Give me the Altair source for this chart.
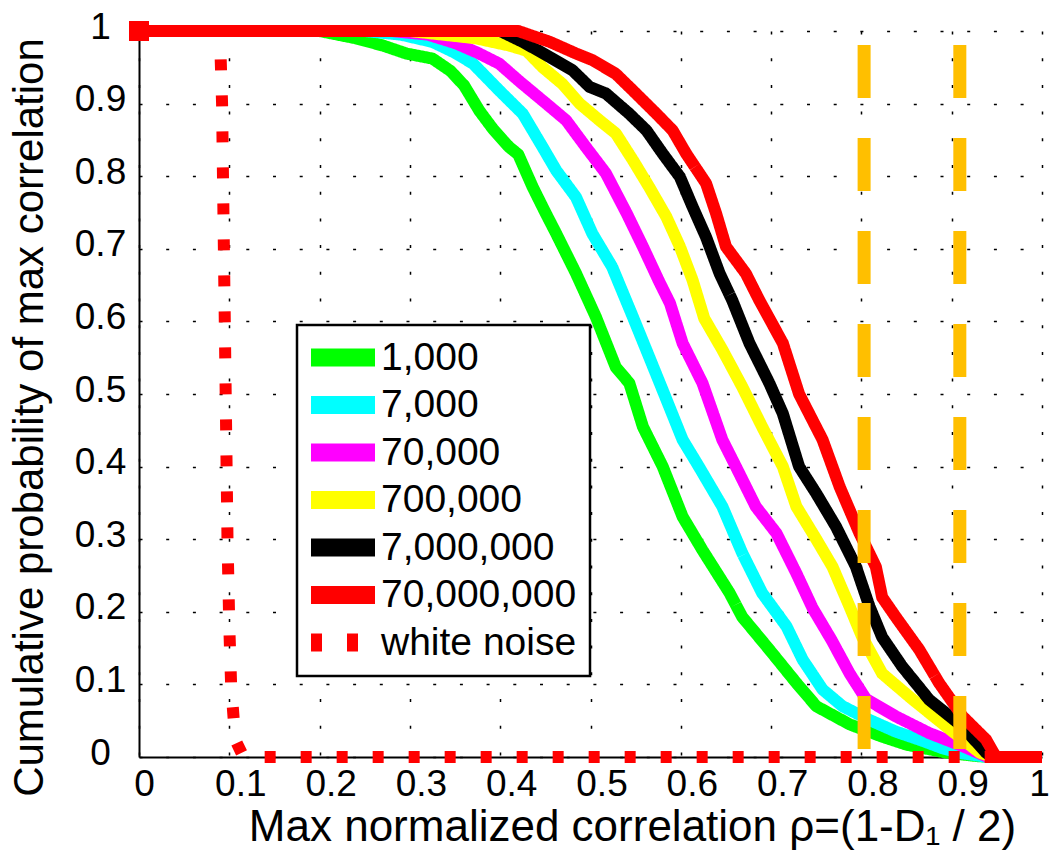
import altair as alt
import pandas as pd

# ---------------- data ----------------
series_names = ["1,000", "7,000", "70,000", "700,000", "7,000,000", "70,000,000", "white noise"]
series_colors = ["#00FF00", "#00FFFF", "#FF00FF", "#FFFF00", "#000000", "#FF0000", "#FF0000"]

green_x = [0, 0.2, 0.24, 0.27, 0.296, 0.325, 0.345, 0.36, 0.377, 0.392, 0.41, 0.42, 0.436, 0.45, 0.462,
           0.484, 0.506, 0.528, 0.543, 0.558, 0.58, 0.602, 0.624, 0.654, 0.668, 0.698, 0.728, 0.75, 0.787,
           0.823, 0.85, 0.894, 0.93, 0.95, 1.0]
green_y = [1, 1, 0.99, 0.98, 0.969, 0.962, 0.945, 0.925, 0.89, 0.865, 0.84, 0.83, 0.785, 0.75, 0.721,
           0.666, 0.606, 0.537, 0.515, 0.455, 0.40, 0.331, 0.285, 0.226, 0.193, 0.148, 0.102, 0.07, 0.045,
           0.028, 0.017, 0.006, 0.001, 0, 0]

cyan_x = [0, 0.25, 0.29, 0.325, 0.35, 0.37, 0.399, 0.425, 0.447, 0.462, 0.484, 0.502, 0.524, 0.547, 0.565,
          0.58, 0.602, 0.62, 0.646, 0.668, 0.69, 0.717, 0.735, 0.757, 0.779, 0.809, 0.838, 0.864, 0.89,
          0.912, 0.94, 1.0]
cyan_y = [1, 1, 0.995, 0.985, 0.97, 0.955, 0.918, 0.886, 0.84, 0.808, 0.771, 0.721, 0.675, 0.606, 0.551,
          0.505, 0.437, 0.40, 0.345, 0.281, 0.226, 0.18, 0.134, 0.093, 0.07, 0.051, 0.035, 0.024, 0.012,
          0.005, 0, 0]

magenta_x = [0, 0.28, 0.32, 0.351, 0.375, 0.399, 0.421, 0.451, 0.473, 0.495, 0.517, 0.54, 0.558, 0.576,
             0.588, 0.602, 0.624, 0.646, 0.661, 0.683, 0.706, 0.728, 0.746, 0.767, 0.787, 0.805, 0.838,
             0.875, 0.912, 0.94, 1.0]
magenta_y = [1, 1, 0.995, 0.983, 0.97, 0.955, 0.931, 0.90, 0.877, 0.84, 0.804, 0.749, 0.703, 0.655,
             0.625, 0.57, 0.515, 0.437, 0.40, 0.345, 0.308, 0.253, 0.205, 0.161, 0.115, 0.08, 0.056,
             0.033, 0.015, 0, 0]

yellow_x = [0, 0.3, 0.373, 0.41, 0.429, 0.447, 0.469, 0.488, 0.51, 0.528, 0.547, 0.565, 0.584, 0.599,
            0.613, 0.626, 0.646, 0.668, 0.69, 0.713, 0.728, 0.75, 0.768, 0.787, 0.801, 0.823, 0.857,
            0.894, 0.931, 0.945, 1.0]
yellow_y = [1, 1, 0.99, 0.98, 0.973, 0.95, 0.927, 0.90, 0.877, 0.859, 0.822, 0.785, 0.744, 0.703,
            0.657, 0.604, 0.561, 0.51, 0.455, 0.40, 0.345, 0.30, 0.262, 0.207, 0.165, 0.115, 0.079,
            0.042, 0.006, 0, 0]

black_x = [0, 0.4, 0.425, 0.455, 0.48, 0.499, 0.517, 0.543, 0.562, 0.58, 0.599, 0.613, 0.628, 0.643,
           0.657, 0.676, 0.698, 0.713, 0.731, 0.75, 0.772, 0.794, 0.809, 0.823, 0.845, 0.875, 0.912,
           0.938, 0.945, 1.0]
black_y = [1, 1, 0.985, 0.964, 0.946, 0.923, 0.914, 0.886, 0.863, 0.831, 0.799, 0.758, 0.716, 0.666,
           0.629, 0.57, 0.515, 0.473, 0.40, 0.363, 0.317, 0.262, 0.207, 0.165, 0.125, 0.079, 0.042,
           0.006, 0, 0]

red_x = [0, 0.42, 0.455, 0.484, 0.502, 0.528, 0.547, 0.573, 0.591, 0.606, 0.628, 0.639, 0.65, 0.672,
         0.687, 0.713, 0.731, 0.757, 0.776, 0.798, 0.816, 0.823, 0.838, 0.864, 0.886, 0.912, 0.938,
         0.949, 1.0]
red_y = [1, 1, 0.985, 0.969, 0.96, 0.941, 0.918, 0.886, 0.863, 0.831, 0.79, 0.749, 0.703, 0.666,
         0.629, 0.57, 0.50, 0.437, 0.372, 0.308, 0.262, 0.22, 0.193, 0.148, 0.102, 0.056, 0.024,
         0, 0]

noise_x = [0, 0.088, 0.09, 0.092, 0.094, 0.096, 0.098, 0.1, 0.102, 0.105, 0.108, 0.115, 0.12, 1.0]
noise_y = [1, 1, 0.98, 0.9, 0.7, 0.5, 0.3, 0.18, 0.1, 0.05, 0.02, 0.002, 0, 0]

threshold_x = [0.803, 0.909]
tick_values = [0, 0.1, 0.2, 0.3, 0.4, 0.5, 0.6, 0.7, 0.8, 0.9, 1]

# ---------------- tables ----------------
series_xy = [(green_x, green_y), (cyan_x, cyan_y), (magenta_x, magenta_y), (yellow_x, yellow_y),
             (black_x, black_y), (red_x, red_y), (noise_x, noise_y)]
rows = []
for name, (xs, ys) in zip(series_names, series_xy):
    for i, (xv, yv) in enumerate(zip(xs, ys)):
        rows.append({"series": name, "x": xv, "y": yv, "idx": i})
df = pd.DataFrame(rows)

thr_rows = []
for g, xv in enumerate(threshold_x):
    thr_rows.append({"g": g, "x": xv, "y": 1.0, "o": 0})
    thr_rows.append({"g": g, "x": xv, "y": 0.0, "o": 1})
thr = pd.DataFrame(thr_rows)

FONT = "Liberation Sans"

xscale = alt.Scale(domain=[0, 1], nice=False, zero=False)
yscale = alt.Scale(domain=[0, 1], nice=False, zero=False)

x_axis = alt.Axis(
    values=tick_values, format=".1~f", ticks=False, labelFlush=False,
    labelFontSize=37, labelFont=FONT, labelColor="black", labelPadding=9,
    labelOffset={"condition": [
        {"test": "datum.value > 0.01 && datum.value < 0.99", "value": 11},
        {"test": "datum.value >= 0.99", "value": -3},
    ], "value": 5},
    domainColor="black", domainWidth=2,
    grid=True, gridColor="black", gridDash=[3, 23.7], gridWidth=1.5, gridOpacity=1,
    title="Max normalized correlation ρ=(1-D₁ / 2)", titleFont=FONT, titleFontSize=44,
    titleFontWeight="normal", titleColor="black", titleX=493, titleY=83,
    titleAnchor="middle", titleBaseline="alphabetic",
)
y_axis = alt.Axis(
    values=tick_values, format=".1~f", ticks=False,
    labelFontSize=37, labelFont=FONT, labelColor="black", labelPadding=39,
    labelAlign="center", labelBaseline="middle", labelOffset=-4,
    domainColor="black", domainWidth=2,
    grid=True, gridColor="black", gridDash=[3, 23.7], gridWidth=1.5, gridOpacity=1,
    title="Cumulative probability of max correlation", titleFont=FONT, titleFontSize=42,
    titleFontWeight="normal", titleColor="black", titleAngle=270, titleX=-97, titleY=386,
    titleAlign="center", titleBaseline="alphabetic",
)

color_scale = alt.Scale(domain=series_names, range=series_colors)
dash_scale = alt.Scale(domain=series_names, range=[[1, 0]] * 6 + [[11, 25]])

legend = alt.Legend(
    title=None, orient="none", legendX=158, legendY=294,
    symbolType="M-2,0L2,0", symbolSize=1024, symbolStrokeWidth=18, symbolOffset=8,
    labelFont=FONT, labelFontSize=39, labelColor="black", labelLimit=0, labelOffset=13,
    clipHeight=39, padding=13, rowPadding=7.5, fillColor="white", strokeColor="black",
)

layers = []
for name in series_names:
    sub = df[df["series"] == name]
    layers.append(
        alt.Chart(sub).mark_line(strokeWidth=12, strokeJoin="round", strokeCap="butt").encode(
            x=alt.X("x:Q", scale=xscale, axis=x_axis),
            y=alt.Y("y:Q", scale=yscale, axis=y_axis),
            color=alt.Color("series:N", scale=color_scale, legend=legend, sort=series_names),
            strokeDash=alt.StrokeDash("series:N", scale=dash_scale, legend=legend, sort=series_names),
            order=alt.Order("idx:Q"),
        )
    )

start_square = alt.Chart(df[(df["series"] == "white noise") & (df["idx"] == 0)]).mark_point(
    shape="square", size=400, filled=True, color="#FF0000", opacity=1
).encode(x=alt.X("x:Q", scale=xscale), y=alt.Y("y:Q", scale=yscale))

thresholds = alt.Chart(thr).mark_line(
    color="#FFBF00", strokeWidth=13, strokeDash=[53, 40], strokeDashOffset=79, strokeCap="butt"
).encode(
    x=alt.X("x:Q", scale=xscale),
    y=alt.Y("y:Q", scale=yscale),
    detail="g:N",
    order=alt.Order("o:Q"),
)

chart = alt.layer(*layers, start_square, thresholds).properties(
    width=903, height=726,
    autosize=alt.AutoSizeParams(type="none"),
    padding={"left": 139, "top": 31, "right": 11, "bottom": 94},
    background="white",
).configure_view(stroke=None).configure_legend(strokeWidth=2.5)

chart.save("out.html", embed_options={"renderer": "svg", "actions": False})
